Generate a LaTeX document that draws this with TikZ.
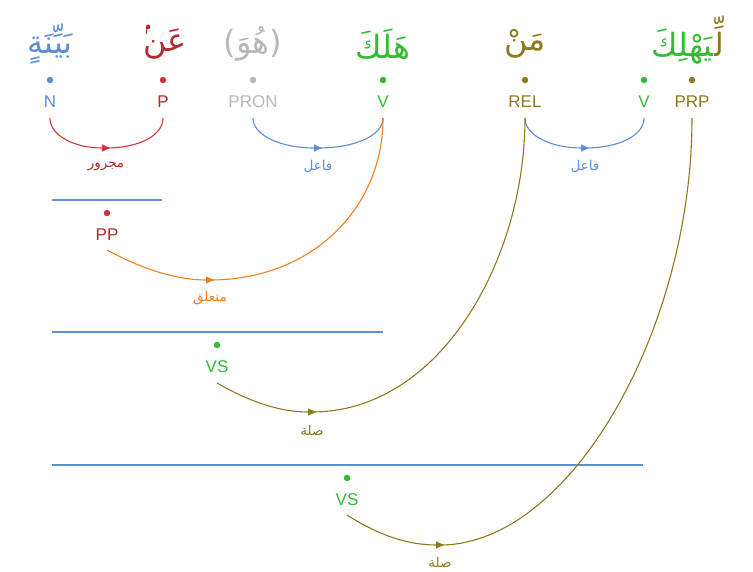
\documentclass[tikz,border=0pt]{standalone}
\usepackage{fontspec}
\usetikzlibrary{arrows.meta}
\TeXXeTstate=1
\newfontfamily\arabicfont[Script=Arabic]{DejaVu Sans}
\newfontfamily\tagfont{Liberation Sans}
\definecolor{cblue}{HTML}{5B8ED6}
\definecolor{cred}{HTML}{D0343A}
\definecolor{cdred}{HTML}{B02A2E}
\definecolor{cgray}{HTML}{B8B8B8}
\definecolor{cgreen}{HTML}{33BB33}
\definecolor{colive}{HTML}{8C7A1C}
\definecolor{corange}{HTML}{F07F1E}
\tikzset{
  word/.style={inner sep=0pt, font=\arabicfont\fontsize{32}{36}\selectfont},
  tagn/.style={inner sep=0pt, anchor=base, font=\tagfont\fontsize{17}{19}\selectfont},
  lbl/.style={inner sep=0pt, font=\arabicfont\fontsize{13.5}{15}\selectfont},
  dotn/.style={circle, inner sep=0pt, minimum size=6.5pt},
  edge/.style={line width=1.1pt},
  edgetip/.style={edge, -{Triangle[length=8pt,width=7pt]}, shorten >=-4pt},
  rule/.style={cblue, line width=1.1pt}
}
\begin{document}
\begin{tikzpicture}[x=1pt,y=-1pt]
\useasboundingbox (0,0) rectangle (753,571);
% words
\node[word, text=cblue] (w1) at (50,44) {\beginR بَيِّنَةٍ\endR};
\node[word, text=cdred] (w2) at (165,44) {\beginR عَن\endR};
% small high meem (U+06E2, absent from the Arabic font) drawn as a mark
\coordinate (mm) at ([xshift=5pt,yshift=2pt]w2.north west);
\fill[cdred] (mm) circle[radius=2.3pt];
\draw[cdred, line width=1.3pt] ([xshift=-1.8pt,yshift=-1pt]mm) -- ([xshift=-1.8pt,yshift=-7pt]mm);
\node[word, text=cgray] (w3) at (253,44) {\beginR (هُوَ)\endR};
\node[word, text=cgreen] (w4) at (383,44) {\beginR هَلَكَ\endR};
\node[word, text=colive] (w5) at (525,44) {\beginR مَنْ\endR};
\node[word, text=colive, anchor=base east] (w6a) at (724,56) {\beginR لِّ^^^^200d\endR};
\node[word, text=cgreen, anchor=base east] (w6b) at (w6a.base west) {\beginR ^^^^200dيَهْلِكَ\endR};
% dots
\node[dotn, fill=cblue] (d1) at (50,80) {};
\node[dotn, fill=cred] (d2) at (163,80) {};
\node[dotn, fill=cgray] (d3) at (253,80) {};
\node[dotn, fill=cgreen] (d4) at (383,80) {};
\node[dotn, fill=colive] (d5) at (525,80) {};
\node[dotn, fill=cgreen] (d6) at (644,80) {};
\node[dotn, fill=colive] (d7) at (692,80) {};
% tags
\node[tagn, text=cblue] (N) at (50,107) {N};
\node[tagn, text=cdred] (P) at (163,107) {P};
\node[tagn, text=cgray] (PRON) at (253,107) {PRON};
\node[tagn, text=cgreen] (V1) at (383,107) {V};
\node[tagn, text=colive] (REL) at (525,107) {REL};
\node[tagn, text=cgreen] (V2) at (644,107) {V};
\node[tagn, text=colive] (PRP) at (692,107) {PRP};
% phrase nodes
\draw[rule] (52,200) -- (162,200);
\node[dotn, fill=cred] (dpp) at (107,213) {};
\node[tagn, text=cdred] (PP) at (107,240) {PP};
\draw[rule] (52,332) -- (383,332);
\node[dotn, fill=cgreen] (dvs1) at (217,345) {};
\node[tagn, text=cgreen] (VS1) at (217,372) {VS};
\draw[rule] (52,465) -- (643,465);
\node[dotn, fill=cgreen] (dvs2) at (347,478) {};
\node[tagn, text=cgreen] (VS2) at (347,505) {VS};
% bottoms of arcs
\coordinate (b1) at (106,148);
\coordinate (b2) at (318,148);
\coordinate (b3) at (585,148);
\coordinate (b4) at (210,280);
\coordinate (b5) at (312,412);
\coordinate (b6) at (440,545);
% N -> P
\draw[edgetip, cred] ([yshift=-11pt]N.base) .. controls (50,136) and (75,148) .. (b1);
\draw[edge, cred] (b1) .. controls (138,148) and (163,136) .. ([yshift=-11pt]P.base);
\node[lbl, text=cdred] (l1) at (106,166) {\beginR مجرور\endR};
% PRON -> V
\draw[edgetip, cblue] ([yshift=-11pt]PRON.base) .. controls (253,136) and (282,148) .. (b2);
\draw[edge, cblue] (b2) .. controls (354,148) and (383,136) .. ([yshift=-11pt]V1.base);
\node[lbl, text=cblue] (l2) at (318,166) {\beginR فاعل\endR};
% REL -> V
\draw[edgetip, cblue] ([yshift=-11pt]REL.base) .. controls (525,136) and (552,148) .. (b3);
\draw[edge, cblue] (b3) .. controls (618,148) and (644,136) .. ([yshift=-11pt]V2.base);
\node[lbl, text=cblue] (l3) at (585,166) {\beginR فاعل\endR};
% PP -> V
\draw[edgetip, corange] ([yshift=-10pt]PP.base) .. controls (140,268) and (175,280) .. (b4);
\draw[edge, corange] (b4) .. controls (310,280) and (383,210) .. ([yshift=-11pt]V1.base);
\node[lbl, text=corange] (l4) at (210,298) {\beginR متعلق\endR};
% VS1 -> REL
\draw[edgetip, colive] ([yshift=-11pt]VS1.base) .. controls (250,402) and (280,412) .. (b5);
\draw[edge, colive] (b5) .. controls (440,412) and (525,260) .. ([yshift=-11pt]REL.base);
\node[lbl, text=colive] (l5) at (312,430) {\beginR صلة\endR};
% VS2 -> PRP
\draw[edgetip, colive] ([yshift=-10pt]VS2.base) .. controls (375,533) and (405,545) .. (b6);
\draw[edge, colive] (b6) .. controls (570,545) and (692,330) .. ([yshift=-11pt]PRP.base);
\node[lbl, text=colive] (l6) at (440,562) {\beginR صلة\endR};
\end{tikzpicture}
\end{document}
